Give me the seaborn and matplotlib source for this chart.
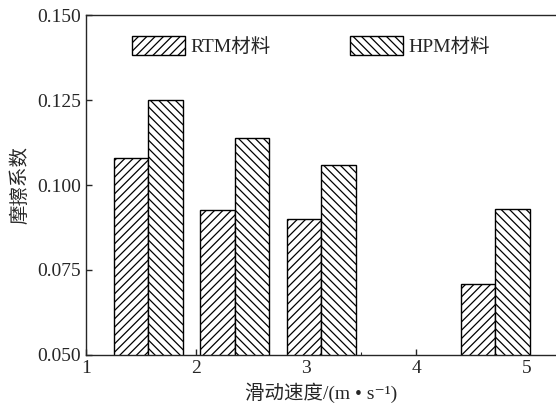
import pandas as pd
import matplotlib.pyplot as plt
import seaborn as sns

# 滑动速度位置和两种材料的摩擦系数
speed = [1.565, 2.35, 3.135, 4.72]
rtm = [0.108, 0.0926, 0.0900, 0.0710]
hpm = [0.125, 0.1138, 0.1059, 0.0929]
materials = ["RTM材料", "HPM材料"]

df = pd.DataFrame({
    "speed": speed * 2,
    "mu": rtm + hpm,
    "material": [materials[0]] * len(rtm) + [materials[1]] * len(hpm),
})

sns.set_style("ticks")
plt.rcParams["font.family"] = ["Liberation Serif", "Noto Sans CJK SC", "DejaVu Serif"]
plt.rcParams["hatch.linewidth"] = 0.9
plt.rcParams["font.size"] = 14

fig = plt.figure(figsize=(5.56, 4.08), dpi=100)
ax = fig.add_axes([0.155, 0.13, 0.845, 0.833])

sns.barplot(data=df, x="speed", y="mu", hue="material", native_scale=True,
            palette=["white", "white"], edgecolor="black", linewidth=1.0,
            width=0.8, legend=False, ax=ax)

for cont, h in zip(ax.containers, ["////", "\\\\\\\\"]):
    for bar in cont:
        bar.set_hatch(h)

ax.legend(ax.containers, materials, loc="upper center", bbox_to_anchor=(0.479, 0.99),
          ncol=2, frameon=False, handlelength=2.7, handleheight=1.1,
          handletextpad=0.3, columnspacing=4.1, fontsize=14)

ax.set_xlim(1, 5.27)
ax.set_ylim(0.05, 0.15)
ax.set_xticks([1, 2, 3, 4, 5])
ax.set_xticks([1.5, 2.5, 3.5, 4.5], minor=True)
ax.set_yticks([0.05, 0.075, 0.1, 0.125, 0.15])
ax.set_yticklabels(["0.050", "0.075", "0.100", "0.125", "0.150"])
ax.tick_params(direction="in", length=4, width=1, labelsize=14)
ax.tick_params(axis="x", which="minor", direction="in", length=2.5, width=0.8)
ax.spines["right"].set_visible(False)
for s in ["left", "bottom", "top"]:
    ax.spines[s].set_linewidth(1.0)

ax.set_xlabel("滑动速度/(m • s⁻¹)", fontsize=14, labelpad=4)
ax.set_ylabel("摩擦系数", fontsize=14, labelpad=6)

plt.savefig("out.png", dpi=100)
